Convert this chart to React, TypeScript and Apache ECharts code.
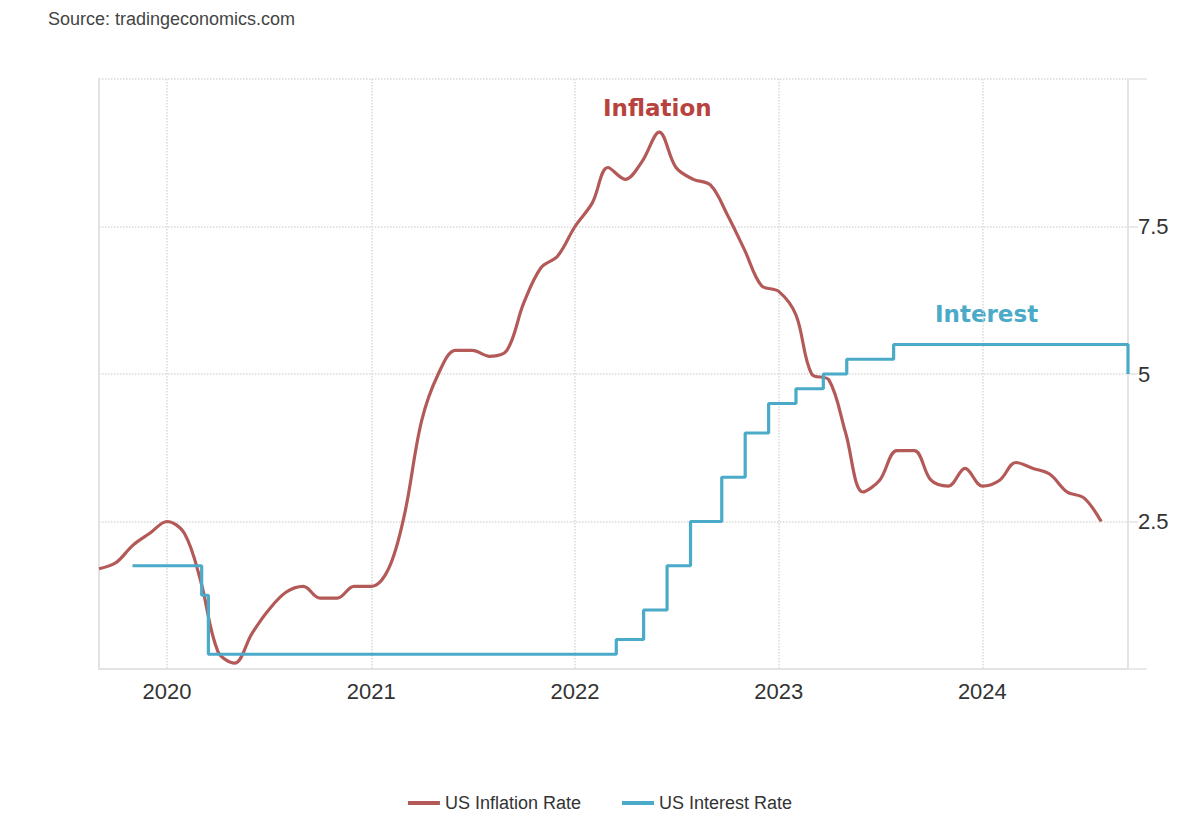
import React, { useEffect, useRef } from "react";
import * as echarts from "echarts";

const inflationMonths: string[] = [
  "2019-09", "2019-10", "2019-11", "2019-12",
  "2020-01", "2020-02", "2020-03", "2020-04", "2020-05", "2020-06", "2020-07", "2020-08", "2020-09", "2020-10", "2020-11", "2020-12",
  "2021-01", "2021-02", "2021-03", "2021-04", "2021-05", "2021-06", "2021-07", "2021-08", "2021-09", "2021-10", "2021-11", "2021-12",
  "2022-01", "2022-02", "2022-03", "2022-04", "2022-05", "2022-06", "2022-07", "2022-08", "2022-09", "2022-10", "2022-11", "2022-12",
  "2023-01", "2023-02", "2023-03", "2023-04", "2023-05", "2023-06", "2023-07", "2023-08", "2023-09", "2023-10", "2023-11", "2023-12",
  "2024-01", "2024-02", "2024-03", "2024-04", "2024-05", "2024-06", "2024-07", "2024-08",
];
const inflationValues: number[] = [
  1.7, 1.8, 2.1, 2.3,
  2.5, 2.3, 1.5, 0.3, 0.1, 0.6, 1.0, 1.3, 1.4, 1.2, 1.2, 1.4,
  1.4, 1.7, 2.6, 4.2, 5.0, 5.4, 5.4, 5.3, 5.4, 6.2, 6.8, 7.0,
  7.5, 7.9, 8.5, 8.3, 8.6, 9.1, 8.5, 8.3, 8.2, 7.7, 7.1, 6.5,
  6.4, 6.0, 5.0, 4.9, 4.0, 3.0, 3.2, 3.7, 3.7, 3.2, 3.1, 3.4,
  3.1, 3.2, 3.5, 3.4, 3.3, 3.0, 2.9, 2.5,
];

const interestDates: string[] = [
  "2019-10-31", "2020-03-03", "2020-03-15", "2022-03-16", "2022-05-04", "2022-06-15", "2022-07-27",
  "2022-09-21", "2022-11-02", "2022-12-14", "2023-02-01", "2023-03-22", "2023-05-03", "2023-07-26", "2024-09-18",
];
const interestValues: number[] = [
  1.75, 1.25, 0.25, 0.5, 1.0, 1.75, 2.5, 3.25, 4.0, 4.5, 4.75, 5.0, 5.25, 5.5, 5.0,
];

const yearTicks: number[] = [2020, 2021, 2022, 2023, 2024];
const yTicks: number[] = [0, 2.5, 5, 7.5, 10];
const yLabels: string[] = ["", "2.5", "5", "7.5", ""];

const xMin = "2019-09-01";
const xMax = "2024-09-18";

const toTs = (s: string) => {
  const p = s.split("-").map(Number);
  return Date.UTC(p[0], p[1] - 1, p[2] || 1);
};

export default function App() {
  const ref = useRef<HTMLDivElement>(null);
  useEffect(() => {
    document.body.style.margin = "0";
    const chart = echarts.init(ref.current!, null, { renderer: "svg" });
    const font = "'Liberation Sans', Arial, sans-serif";
    const yearTs = yearTicks.map((y) => Date.UTC(y, 0, 1));
    chart.setOption({
      animation: false,
      backgroundColor: "#ffffff",
      textStyle: { fontFamily: font },
      title: {
        text: "Source: tradingeconomics.com",
        left: 43,
        top: 5,
        textStyle: { fontSize: 18, fontWeight: "normal", color: "#444", fontFamily: font },
      },
      grid: { left: 99, right: 72, top: 79, bottom: 151 },
      legend: {
        bottom: 3,
        left: "center",
        icon: "rect",
        itemWidth: 32,
        itemHeight: 4,
        itemGap: 41,
        textStyle: { fontSize: 18, color: "#333", fontFamily: font },
        data: ["US Inflation Rate", "US Interest Rate"],
      },
      xAxis: {
        type: "value",
        min: toTs(xMin),
        max: toTs(xMax),
        axisLine: { show: true, onZero: false, lineStyle: { color: "#e3e3e3", width: 2 } },
        axisTick: { show: false, customValues: yearTs },
        axisLabel: {
          customValues: yearTs,
          formatter: (v: number) => String(new Date(v).getUTCFullYear()),
          fontSize: 22,
          color: "#333",
          margin: 11,
          fontFamily: font,
        },
        splitLine: {
          show: true,
          lineStyle: { color: "#d9d9d9", type: "dotted", width: 1.5 },
        },
      },
      yAxis: [
        {
          type: "value",
          position: "right",
          min: 0,
          max: 10,
          interval: 2.5,
          axisLine: { show: true, lineStyle: { color: "#e3e3e3", width: 2 } },
          axisTick: { show: true, length: 19, lineStyle: { color: "#e3e3e3", width: 1.5 } },
          axisLabel: {
            formatter: (v: number) => yLabels[yTicks.indexOf(v)] ?? "",
            fontSize: 22,
            color: "#333",
            margin: 10,
            fontFamily: font,
            backgroundColor: "#ffffff",
            padding: [0, 2, 0, 0],
          },
          splitLine: { show: true, lineStyle: { color: "#d9d9d9", type: "dotted", width: 1.5 } },
        },
        {
          type: "value",
          position: "left",
          min: 0,
          max: 10,
          interval: 2.5,
          axisLine: { show: true, lineStyle: { color: "#e3e3e3", width: 2 } },
          axisTick: { show: false },
          axisLabel: { show: false },
          splitLine: { show: false },
        },
      ],
      series: [
        {
          name: "US Inflation Rate",
          type: "line",
          yAxisIndex: 0,
          data: inflationMonths.map((m, i) => [toTs(m), inflationValues[i]]),
          smooth: 0.35,
          symbol: "none",
          lineStyle: { color: "#b35a58", width: 3.2 },
          itemStyle: { color: "#b35a58" },
          z: 3,
        },
        {
          name: "US Interest Rate",
          type: "line",
          yAxisIndex: 0,
          step: "end",
          data: interestDates.map((d, i) => [toTs(d), interestValues[i]]),
          symbol: "none",
          lineStyle: { color: "#4aaac8", width: 3.2 },
          itemStyle: { color: "#4aaac8" },
          z: 4,
        },
      ],
      graphic: [
        {
          type: "text",
          left: 603,
          top: 96,
          style: {
            text: "Inflation",
            fill: "#b8433e",
            font: "bold 23px 'DejaVu Sans', Verdana, sans-serif",
          },
        },
        {
          type: "text",
          left: 935,
          top: 302,
          style: {
            text: "Interest",
            fill: "#4aaac8",
            font: "bold 23px 'DejaVu Sans', Verdana, sans-serif",
          },
        },
      ],
    });
    return () => chart.dispose();
  }, []);
  return <div ref={ref} style={{ width: 1200, height: 820 }} />;
}
